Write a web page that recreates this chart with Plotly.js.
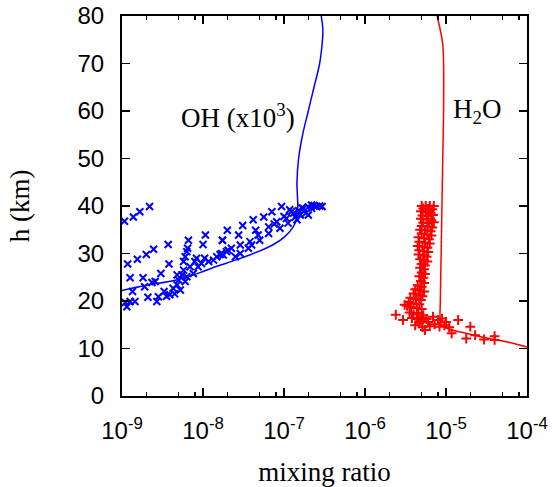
<!DOCTYPE html>
<html>
<head>
<meta charset="utf-8">
<script src="https://cdn.plot.ly/plotly-3.0.1.min.js"></script>
<style>html,body{margin:0;padding:0;background:#fff}#chart{width:558px;height:487px}</style>
</head>
<body>
<div id="chart"></div>
<script>
// Model profiles: log10(mixing ratio) and altitude h (km)
const ohModelLogX = [-9.0, -8.7, -8.33, -8.0, -7.83, -7.6, -7.41, -7.25, -7.12, -7.0, -6.89, -6.84, -6.83, -6.84, -6.82, -6.77, -6.70, -6.63, -6.56, -6.53, -6.52, -6.54];
const ohModelH    = [22.2, 23.3, 24.4, 26.2, 27.3, 28.6, 29.8, 30.9, 32.0, 33.4, 35.5, 37.5, 40.0, 45.0, 50.0, 55.0, 60.0, 65.0, 70.0, 74.0, 77.0, 80.0];

const h2oModelLogX = [-4.0, -4.2, -4.4, -4.6, -4.8, -4.95, -5.05, -5.07, -5.07, -5.06, -5.05, -5.04, -5.03, -5.03, -5.04, -5.07, -5.11];
const h2oModelH    = [10.3, 11.2, 11.9, 12.6, 13.4, 14.0, 14.8, 15.5, 20.0, 30.0, 40.0, 50.0, 60.0, 70.0, 74.0, 77.0, 80.0];

// Measurements
const ohObsLogX = [-8.97,-8.86,-8.78,-8.66,-8.93,-8.81,-8.70,-8.61,-8.43,-8.18,-7.97,-8.0,-7.76,-8.19,-8.90,-8.74,-8.87,-8.72,-8.63,-8.52,-8.42,-8.68,-8.57,-8.55,-8.48,-8.41,-8.96,-8.90,-8.84,-8.94,-8.37,-8.32,-8.30,-8.26,-8.24,-8.28,-8.22,-8.20,-8.32,-8.24,-8.22,-8.20,-8.16,-8.12,-8.10,-8.06,-8.02,-7.98,-8.08,-7.93,-7.87,-7.83,-7.79,-8.59,-8.35,-8.45,
  -7.75,-7.69,-7.65,-7.70,-7.76,-7.56,-7.51,-7.54,-7.42,-7.40,-7.38,-7.35,-7.32,-7.30,-7.25,-7.19,-7.19,-7.15,-7.09,-7.05,-7.03,-6.97,-6.95,-6.91,-6.86,-6.80,-6.76,-6.73,-6.66,-6.60,-6.53,-7.60,-7.54,-7.44,-7.71,-7.77,-6.84,-6.70,-6.66,-6.56,-6.63,-6.70,-6.78,-6.88,-7.00,-7.12,-6.93,-6.82];
const ohObsH    = [36.8,37.7,38.8,39.9,27.8,28.8,29.8,30.9,31.9,32.8,33.9,31.9,32.8,31.1,24.9,24.9,22.0,23.0,23.9,25.8,27.8,20.8,19.9,20.9,22.0,21.3,19.7,19.9,19.9,18.8,22.7,23.4,24.4,25.5,26.5,22.3,24.1,25.1,25.5,28.3,29.3,30.4,27.2,25.8,28.3,27.2,27.9,29.0,29.0,28.3,28.6,29.3,29.8,24.1,21.5,21.0,
  29.7,30.7,31.1,34.9,32.8,33.9,35.9,31.8,32.5,31.8,37.1,34.9,33.9,32.8,37.7,35.6,34.2,38.8,36.7,35.3,39.9,37.4,36.4,38.8,37.7,38.1,39.5,38.5,39.5,39.9,39.9,29.3,30.0,31.1,30.4,30.0,37.1,38.1,40.2,40.0,40.1,39.8,39.6,38.5,37.8,36.2,39.2,39.0];

const h2oObsLogX = [-5.30,-5.25,-5.20,-5.15,-5.28,-5.22,-5.17,-5.31,-5.25,-5.19,-5.29,-5.22,-5.16,-5.31,-5.24,-5.18,-5.28,-5.21,-5.15,
  -5.30,-5.23,-5.17,-5.32,-5.26,-5.19,-5.30,-5.23,-5.18,-5.34,-5.27,-5.21,-5.33,-5.26,-5.20,-5.35,-5.29,-5.23,-5.33,-5.27,-5.22,
  -5.34,-5.28,-5.24,-5.32,-5.27,-5.23,-5.30,-5.26,-5.32,-5.27,-5.30,-5.26,-5.33,-5.28,-5.31,-5.27,
  -5.35,-5.30,-5.38,-5.32,-5.27,-5.40,-5.34,-5.29,-5.44,-5.37,-5.31,-5.46,-5.40,-5.33,-5.48,-5.43,-5.36,-5.30,-5.51,
  -5.62,-5.53,-5.45,-5.40,-5.34,-5.28,-5.42,-5.36,-5.30,-5.24,-5.16,-5.10,-5.05,-5.00,-4.85,-5.38,-5.33,-5.26,-5.29,-5.20,-5.14,-5.08,-5.02,-4.96,-4.93,-4.70,-4.75,-4.64,-4.53,-4.40,-4.40,-5.22,-5.31];
const h2oObsH    = [40.0,40.0,40.0,40.0,39.5,39.4,39.3,38.9,38.7,38.6,38.0,37.9,38.1,37.3,37.2,37.0,36.5,36.4,36.6,
  35.8,35.7,35.5,35.0,34.9,34.7,34.2,34.0,33.8,33.4,33.2,33.0,32.5,32.3,32.1,31.6,31.4,31.2,30.7,30.5,30.3,
  29.8,29.6,29.3,28.8,28.6,28.3,27.8,27.5,27.0,26.7,26.0,25.7,25.2,24.9,24.2,23.8,
  23.3,23.0,22.5,22.2,22.0,21.6,21.3,21.0,20.7,20.4,20.2,19.8,19.5,19.3,19.0,18.7,18.5,18.3,19.2,
  17.1,16.0,17.6,17.2,17.5,17.0,16.4,16.2,16.5,16.2,16.7,16.0,16.3,15.6,16.0,14.9,15.3,13.9,14.5,14.7,15.1,14.6,14.9,14.5,13.2,14.6,12.1,12.8,11.9,12.6,11.8,15.6,15.8];

const xTickVals = [1e-9, 1e-8, 1e-7, 1e-6, 1e-5, 1e-4];
const xTickText = ['10<sup>-9</sup>','10<sup>-8</sup>','10<sup>-7</sup>','10<sup>-6</sup>','10<sup>-5</sup>','10<sup>-4</sup>'];
const xMinorVals = [2e-9,5e-9,8e-9,2e-8,5e-8,8e-8,2e-7,5e-7,8e-7,2e-6,5e-6,8e-6,2e-5,5e-5,8e-5];
const yTickVals = [0,10,20,30,40,50,60,70,80];

const toLin = a => a.map(v => Math.pow(10, v));

const traces = [
  {x: toLin(ohObsLogX), y: ohObsH, type:'scatter', mode:'markers',
   marker:{symbol:'x-thin', size:7, color:'#0000ff', line:{color:'#0000ff', width:2}}, showlegend:false},
  {x: toLin(h2oObsLogX), y: h2oObsH, type:'scatter', mode:'markers',
   marker:{symbol:'cross-thin', size:7, color:'#ff0000', line:{color:'#ff0000', width:2}}, showlegend:false},
  {x: toLin(ohModelLogX), y: ohModelH, type:'scatter', mode:'lines', line:{color:'#0000ff', width:1.5, shape:'spline'}, showlegend:false},
  {x: toLin(h2oModelLogX), y: h2oModelH, type:'scatter', mode:'lines', line:{color:'#ff0000', width:1.5, shape:'spline'}, showlegend:false}
];

const tickFont = {family:'Liberation Sans, Arial, sans-serif', size:24, color:'#000'};
const serif = {family:'Liberation Serif, Times New Roman, serif', size:27, color:'#000'};

const layout = {
  width:558, height:487,
  margin:{l:122, r:31, t:16, b:91},
  paper_bgcolor:'#fff', plot_bgcolor:'#fff',
  showlegend:false,
  xaxis:{type:'log', range:[-9,-4], tickmode:'array', tickvals:xTickVals, ticktext:xTickText,
    ticks:'inside', ticklen:8, tickwidth:1.5, tickcolor:'#000', mirror:'ticks', showline:true, linecolor:'#000', linewidth:2,
    showgrid:false, zeroline:false, tickfont:tickFont, ticklabelstandoff:12,
    minor:{tickmode:'array', tickvals:xMinorVals, ticks:'inside', ticklen:4, tickwidth:1.5, tickcolor:'#000', showgrid:false},
    title:{text:'mixing ratio', font:serif, standoff:20}},
  yaxis:{range:[0,80], tickmode:'array', tickvals:yTickVals,
    ticks:'inside', ticklen:8, tickwidth:1.5, tickcolor:'#000', mirror:'ticks', showline:true, linecolor:'#000', linewidth:2,
    showgrid:false, zeroline:false, tickfont:tickFont, ticklabelstandoff:11,
    title:{text:'h (km)', font:serif, standoff:40}},
  annotations:[
    {xref:'paper', yref:'paper', x:0.286, y:0.738, text:'OH (x10<sup>3</sup>)', showarrow:false, font:serif, xanchor:'center', yanchor:'middle'},
    {xref:'paper', yref:'paper', x:0.876, y:0.75, text:'H<sub>2</sub>O', showarrow:false, font:serif, xanchor:'center', yanchor:'middle'}
  ]
};

Plotly.newPlot('chart', traces, layout, {staticPlot:true, displayModeBar:false});
</script>
</body>
</html>
